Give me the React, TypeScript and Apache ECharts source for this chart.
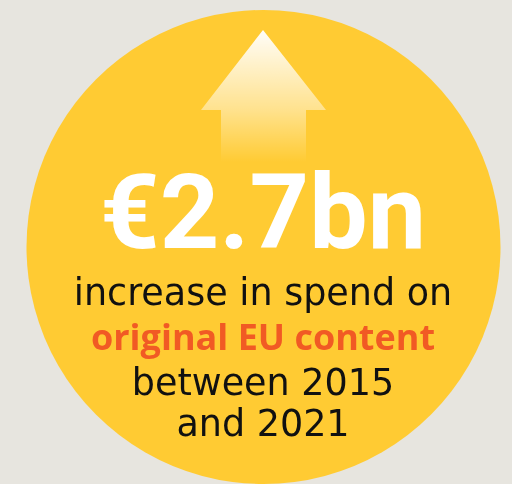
import React, { useEffect, useRef } from "react";
import * as echarts from "echarts";

const headline = ["€2.7bn"];
const bodyLines = ["increase in spend on", "original EU content", "between 2015", "and 2021"];
const bodyColors = ["#111111", "#F15A24", "#111111", "#111111"];
const bodyFonts = ['normal 36.5px "DejaVu Sans"', 'bold 36px "Open Sans"', 'normal 36.5px "DejaVu Sans"', 'normal 36.5px "DejaVu Sans"'];
const bodyBaselines = [305, 349, 395, 436];

export default function App() {
  const ref = useRef<HTMLDivElement>(null);
  useEffect(() => {
    if (!ref.current) return;
    const chart = echarts.init(ref.current, null, { renderer: "svg" });
    const cx = 263.5, cy = 247, r = 237;
    const elements: any[] = [
      { type: "rect", shape: { x: 0, y: 0, width: 512, height: 484 }, style: { fill: "#E7E5DF" }, silent: true },
      { type: "circle", shape: { cx, cy, r }, style: { fill: "#FFCB33" } },
      {
        type: "polygon",
        shape: { points: [[263, 30], [326, 110], [306, 110], [306, 162], [221, 162], [221, 110], [201, 110]] },
        style: {
          fill: new echarts.graphic.LinearGradient(0, 0, 0, 1, [
            { offset: 0, color: "rgba(255,255,255,0.97)" },
            { offset: 0.6, color: "rgba(255,255,255,0.45)" },
            { offset: 1, color: "rgba(255,255,255,0)" },
          ]),
        },
      },
      {
        type: "text",
        x: 263,
        y: 160,
        style: {
          text: headline[0],
          fill: "#ffffff",
          font: "bold 104px Roboto",
          textAlign: "center",
          textVerticalAlign: "top",
        },
      },
    ];
    bodyLines.forEach((t, i) => {
      elements.push({
        type: "text",
        x: 263,
        y: bodyBaselines[i] - 31,
        style: {
          text: t,
          fill: bodyColors[i],
          font: bodyFonts[i],
          textAlign: "center",
          textVerticalAlign: "top",
        },
      });
    });
    chart.setOption({ animation: false, graphic: { elements } });
    return () => chart.dispose();
  }, []);
  return <div ref={ref} style={{ position: "fixed", left: 0, top: 0, width: 512, height: 484 }} />;
}
